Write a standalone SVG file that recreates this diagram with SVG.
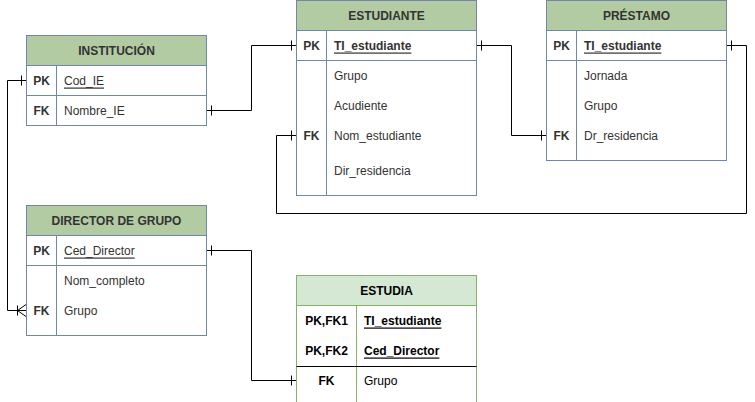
<svg xmlns="http://www.w3.org/2000/svg" width="755" height="402" viewBox="0 0 755 402">
  <style>
    .frame { fill: #ffffff; stroke: #6f86ad; stroke-width: 1; }
    .head { fill: #b3cba3; stroke: #6f86ad; stroke-width: 1; }
    .sep { stroke: #6f86ad; stroke-width: 1; fill: none; }
    .gframe { fill: #ffffff; stroke: #82b366; stroke-width: 1; }
    .ghead { fill: #d5e8d4; stroke: #82b366; stroke-width: 1; }
    .gsep { stroke: #82b366; stroke-width: 1; fill: none; }
    text { font-family: "Liberation Sans", Arial, Helvetica, sans-serif; font-size: 12px; fill: #333333; dominant-baseline: central; }
    .title { font-weight: bold; text-anchor: middle; }
    .key { font-weight: bold; text-anchor: middle; }
    .pk { font-weight: bold; text-decoration: underline; }
    .dark { fill: #000000; }
    .wire { fill: none; stroke: #000000; stroke-width: 1; }
  </style>

  <!-- relationship lines -->
  <g id="connectors">
    <!-- INSTITUCIÓN.Nombre_IE to ESTUDIANTE.TI_estudiante -->
    <path class="wire" d="M206.5 110.5 H251.5 V45.5 H296"/>
    <path class="wire" d="M211.5 105.5 V115.5 M291.5 40.5 V50.5"/>
    <!-- ESTUDIANTE.TI_estudiante to PRÉSTAMO.Dr_residencia -->
    <path class="wire" d="M476.5 45.5 H511.5 V135.5 H546"/>
    <path class="wire" d="M481.5 40.5 V50.5 M541.5 130.5 V140.5"/>
    <!-- PRÉSTAMO.TI_estudiante to ESTUDIANTE.Nom_estudiante -->
    <path class="wire" d="M726.5 45.5 H746.5 V213.5 H276.5 V135.5 H296"/>
    <path class="wire" d="M731.5 40.5 V50.5 M291.5 130.5 V140.5"/>
    <!-- INSTITUCIÓN.Cod_IE to DIRECTOR DE GRUPO.Grupo (one to many) -->
    <path class="wire" d="M26 80.5 H7.5 V310.5 H26"/>
    <path class="wire" d="M21.5 75.5 V85.5 M17.5 305.5 V315.5 M17.5 310.5 L26 304.5 M17.5 310.5 L26 316.5"/>
    <!-- DIRECTOR DE GRUPO.Ced_Director to ESTUDIA.Grupo -->
    <path class="wire" d="M206.5 250.5 H251.5 V380.5 H296"/>
    <path class="wire" d="M211.5 245.5 V255.5 M291.5 375.5 V385.5"/>
  </g>

  <g id="institucion">
    <rect class="frame" x="26.5" y="35.5" width="180" height="90"/>
    <rect class="head" x="26.5" y="35.5" width="180" height="30"/>
    <path class="sep" d="M26.5 95.5 H206.5 M56.5 65.5 V125.5"/>
    <text class="title" x="116.5" y="50.5">INSTITUCIÓN</text>
    <text class="key" x="41.5" y="80.5">PK</text>
    <text class="pk" x="64" y="80.5" style="font-weight:normal">Cod_IE</text>
    <text class="key" x="41.5" y="110.5">FK</text>
    <text x="64" y="110.5">Nombre_IE</text>
  </g>

  <g id="estudiante">
    <rect class="frame" x="296.5" y="0.5" width="180" height="195"/>
    <rect class="head" x="296.5" y="0.5" width="180" height="30"/>
    <path class="sep" d="M296.5 60.5 H476.5 M326.5 30.5 V195.5"/>
    <text class="title" x="386.5" y="15.5">ESTUDIANTE</text>
    <text class="key" x="311.5" y="45.5">PK</text>
    <text class="pk" x="334" y="45.5">TI_estudiante</text>
    <text x="334" y="75.5">Grupo</text>
    <text x="334" y="105.5">Acudiente</text>
    <text class="key" x="311.5" y="135.5">FK</text>
    <text x="334" y="135.5">Nom_estudiante</text>
    <text x="334" y="170.5">Dir_residencia</text>
  </g>

  <g id="prestamo">
    <rect class="frame" x="546.5" y="0.5" width="180" height="160"/>
    <rect class="head" x="546.5" y="0.5" width="180" height="30"/>
    <path class="sep" d="M546.5 60.5 H726.5 M576.5 30.5 V160.5"/>
    <text class="title" x="636.5" y="15.5">PRÉSTAMO</text>
    <text class="key" x="561.5" y="45.5">PK</text>
    <text class="pk" x="584" y="45.5">TI_estudiante</text>
    <text x="584" y="75.5">Jornada</text>
    <text x="584" y="105.5">Grupo</text>
    <text class="key" x="561.5" y="135.5">FK</text>
    <text x="584" y="135.5">Dr_residencia</text>
  </g>

  <g id="director-de-grupo">
    <rect class="frame" x="26.5" y="205.5" width="180" height="130"/>
    <rect class="head" x="26.5" y="205.5" width="180" height="30"/>
    <path class="sep" d="M26.5 265.5 H206.5 M56.5 235.5 V335.5"/>
    <text class="title" x="116.5" y="220.5">DIRECTOR DE GRUPO</text>
    <text class="key" x="41.5" y="250.5">PK</text>
    <text class="pk" x="64" y="250.5" style="font-weight:normal">Ced_Director</text>
    <text x="64" y="280.5">Nom_completo</text>
    <text class="key" x="41.5" y="310.5">FK</text>
    <text x="64" y="310.5">Grupo</text>
  </g>

  <g id="estudia">
    <rect class="gframe" x="296.5" y="275.5" width="180" height="140"/>
    <rect class="ghead" x="296.5" y="275.5" width="180" height="30"/>
    <path class="gsep" d="M356.5 305.5 V410"/>
    <path class="wire" d="M296.5 366.5 H476.5"/>
    <text class="title dark" x="386.5" y="290.5">ESTUDIA</text>
    <text class="key dark" x="326.5" y="320.5">PK,FK1</text>
    <text class="pk dark" x="364" y="320.5">TI_estudiante</text>
    <text class="key dark" x="326.5" y="350.5">PK,FK2</text>
    <text class="pk dark" x="364" y="350.5">Ced_Director</text>
    <text class="key dark" x="326.5" y="380.5">FK</text>
    <text class="dark" x="364" y="380.5">Grupo</text>
  </g>
</svg>
